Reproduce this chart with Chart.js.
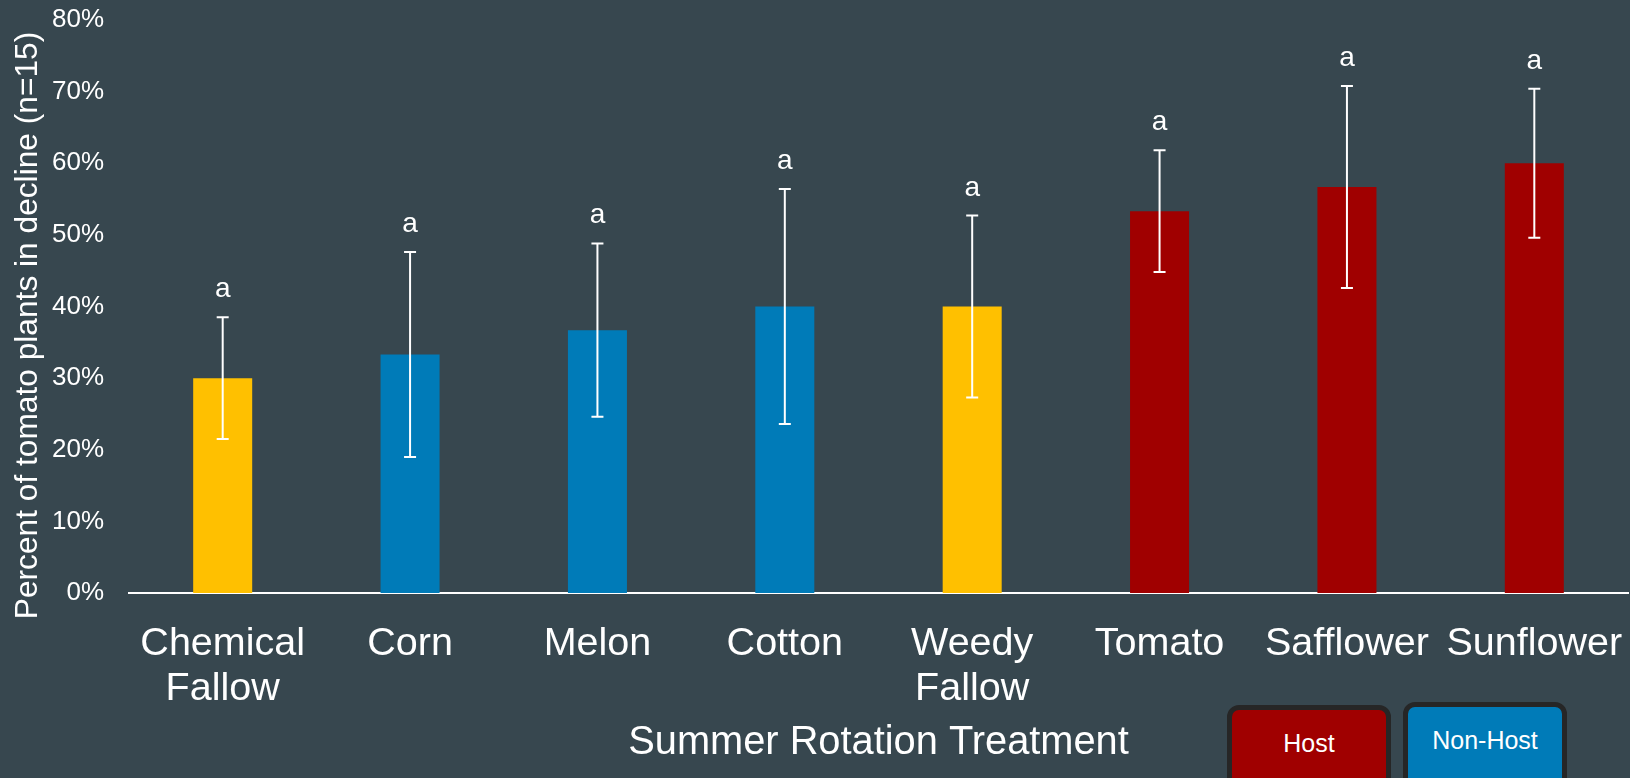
<!DOCTYPE html>
<html>
<head>
<meta charset="utf-8">
<script src="https://cdn.jsdelivr.net/npm/chart.js@4/dist/chart.umd.min.js"></script>
<style>
  html, body { margin: 0; padding: 0; background: #37474f; overflow: hidden; }
  #wrap { position: relative; width: 1630px; height: 778px; }
  .key {
    position: absolute; width: 154px; height: 90px;
    border: 5px solid #262626; border-radius: 12px;
    color: #fff; font: 25px "Liberation Sans", Arial, sans-serif;
    text-align: center; line-height: 66px; box-sizing: content-box;
  }
</style>
</head>
<body>
<div id="wrap">
  <canvas id="chart"></canvas>
</div>
<script>
// --- data ---
const categories = [['Chemical', 'Fallow'], 'Corn', 'Melon', 'Cotton', ['Weedy', 'Fallow'], 'Tomato', 'Safflower', 'Sunflower'];
const percentDecline = [30, 33.3, 36.7, 40, 40, 53.3, 56.7, 60];
const stdError = [8.5, 14.3, 12.1, 16.4, 12.7, 8.5, 14.1, 10.4];
const letters = ['a', 'a', 'a', 'a', 'a', 'a', 'a', 'a'];
const groups = ['fallow', 'nonhost', 'nonhost', 'nonhost', 'fallow', 'host', 'host', 'host'];
const yTicks = [0, 10, 20, 30, 40, 50, 60, 70, 80];
const keyLabels = ['Host', 'Non-Host'];
const keyGroups = ['host', 'nonhost'];
const yTitle = 'Percent of tomato plants in decline (n=15)';

const groupColors = { fallow: '#ffc000', nonhost: '#007bb8', host: '#a00000' };
const FONT = '"Liberation Sans", Arial, sans-serif';

// error bars + significance letters
const errorBars = {
  id: 'errorBars',
  afterDatasetsDraw(chart) {
    const { ctx, scales: { y } } = chart;
    const meta = chart.getDatasetMeta(0);
    ctx.save();
    ctx.strokeStyle = '#ffffff';
    ctx.lineWidth = 2;
    ctx.fillStyle = '#ffffff';
    ctx.font = '28px ' + FONT;
    ctx.textAlign = 'center';
    ctx.textBaseline = 'alphabetic';
    meta.data.forEach((bar, i) => {
      const hi = y.getPixelForValue(percentDecline[i] + stdError[i]);
      const lo = y.getPixelForValue(percentDecline[i] - stdError[i]);
      ctx.beginPath();
      ctx.moveTo(bar.x, hi); ctx.lineTo(bar.x, lo);
      ctx.moveTo(bar.x - 6, hi); ctx.lineTo(bar.x + 6, hi);
      ctx.moveTo(bar.x - 6, lo); ctx.lineTo(bar.x + 6, lo);
      ctx.stroke();
      ctx.fillText(letters[i], bar.x, hi - 20);
    });
    ctx.restore();
  }
};

// y axis title (sits a little below the plot's middle, like the original)
const yAxisTitle = {
  id: 'yAxisTitle',
  afterDraw(chart) {
    const { ctx, chartArea } = chart;
    ctx.save();
    ctx.translate(28.5, (chartArea.top + chartArea.bottom) / 2 + 19);
    ctx.rotate(-Math.PI / 2);
    ctx.fillStyle = '#ffffff';
    ctx.font = '31.7px ' + FONT;
    ctx.textAlign = 'center';
    ctx.textBaseline = 'middle';
    ctx.fillText(yTitle, 0, 0);
    ctx.restore();
  }
};

const ctx = document.getElementById('chart').getContext('2d');
new Chart(ctx, {
  type: 'bar',
  data: {
    labels: categories,
    datasets: [{
      data: percentDecline,
      backgroundColor: groups.map(g => groupColors[g]),
      barPercentage: 0.315,
      categoryPercentage: 1
    }]
  },
  options: {
    responsive: true,
    maintainAspectRatio: false,
    animation: false,
    layout: { padding: { top: 20, right: 2, bottom: 0, left: 0 } },
    plugins: { legend: { display: false }, tooltip: { enabled: false } },
    scales: {
      x: {
        grid: { display: false, drawTicks: false },
        border: { display: true, color: '#ffffff', width: 2 },
        ticks: { color: '#ffffff', padding: 29, font: { family: FONT, size: 39.5, lineHeight: 1.13 } },
        title: {
          display: true, text: 'Summer Rotation Treatment', color: '#ffffff',
          font: { family: FONT, size: 39.8 }, padding: { top: 0, bottom: 11 }
        },
        afterFit: (scale) => {
          scale.height = 185;
          scale.paddingLeft = 0;
          scale.paddingRight = 0;
        }
      },
      y: {
        min: 0, max: 80,
        grid: { display: false, drawTicks: false },
        border: { display: false },
        afterBuildTicks: (scale) => { scale.ticks = yTicks.map(v => ({ value: v })); },
        ticks: { color: '#ffffff', padding: 25, font: { family: FONT, size: 26 }, callback: v => v + '%' },
        afterFit: (scale) => {
          scale.width = 129;
          scale.paddingTop = 0;
          scale.paddingBottom = 0;
        }
      }
    }
  },
  plugins: [errorBars, yAxisTitle]
});

// host / non-host key boxes
const keyLeft = [1227, 1403];
const keyTop = [705, 702];
keyLabels.forEach((label, i) => {
  const d = document.createElement('div');
  d.className = 'key';
  d.textContent = label;
  d.style.background = groupColors[keyGroups[i]];
  d.style.left = keyLeft[i] + 'px';
  d.style.top = keyTop[i] + 'px';
  document.getElementById('wrap').appendChild(d);
});
</script>
</body>
</html>
